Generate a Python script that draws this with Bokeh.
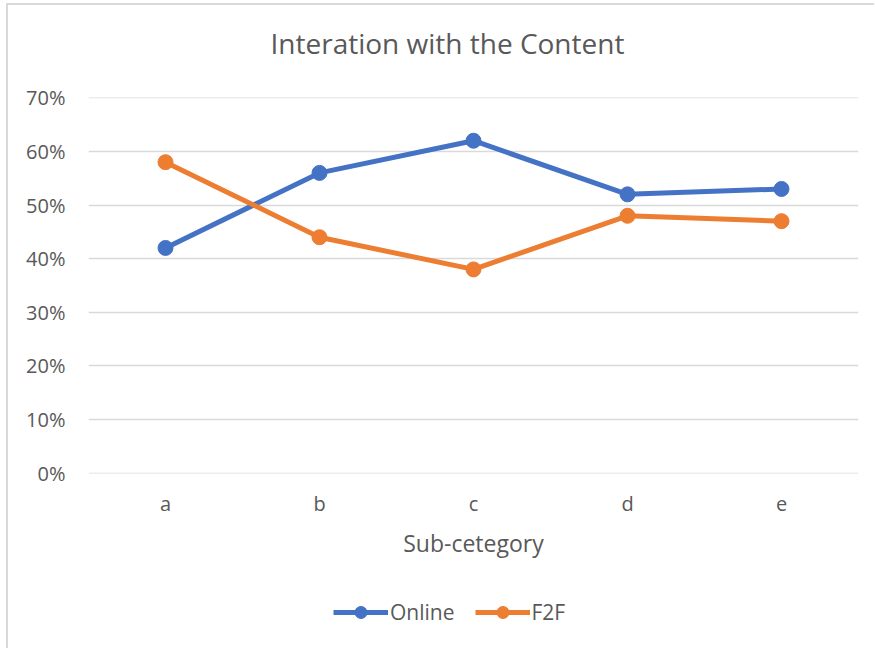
from bokeh.plotting import figure
from bokeh.layouts import column
from bokeh.models import (FactorRange, Range1d, NumeralTickFormatter, FixedTicker,
                          Legend, LegendItem, Title)
from bokeh.embed import file_html
from bokeh.resources import INLINE

categories = ["a", "b", "c", "d", "e"]
online = [0.42, 0.56, 0.62, 0.52, 0.53]
f2f = [0.58, 0.44, 0.38, 0.48, 0.47]
y_ticks = [0.0, 0.1, 0.2, 0.3, 0.4, 0.5, 0.6, 0.7]

BLUE = "#4472C4"
ORANGE = "#ED7D31"
TXT = "#595959"
FONT = "Open Sans"

p = figure(width=866, height=580, x_range=FactorRange(*categories, range_padding=0),
           y_range=Range1d(-0.0006, 0.7006), output_backend="svg", toolbar_location=None,
           title=None,
           min_border_left=80, min_border_right=16, min_border_top=92, min_border_bottom=112)

# spacer between frame and title, then the title itself
p.add_layout(Title(text=" ", text_font_size="10px", standoff=18), "above")
p.add_layout(Title(text="Interation with the Content", align="left", offset=182,
                   text_font=FONT, text_font_size="28px", text_font_style="normal",
                   text_color=TXT, standoff=10), "above")

p.outline_line_color = None
p.xgrid.grid_line_color = None
p.ygrid.grid_line_color = "#d9d9d9"
p.ygrid.grid_line_width = 1.5

p.yaxis.ticker = FixedTicker(ticks=y_ticks)
p.yaxis.formatter = NumeralTickFormatter(format="0%")
for ax in (p.xaxis[0], p.yaxis[0]):
    ax.axis_line_color = None
    ax.major_tick_line_color = None
    ax.minor_tick_line_color = None
    ax.major_label_text_font = FONT
    ax.major_label_text_font_size = "20px"
    ax.major_label_text_color = TXT
p.yaxis.major_label_standoff = 17
p.xaxis.major_label_standoff = 10
p.xaxis.axis_label = "Sub-cetegory"
p.xaxis.axis_label_text_font = FONT
p.xaxis.axis_label_text_font_size = "23px"
p.xaxis.axis_label_text_font_style = "normal"
p.xaxis.axis_label_text_color = TXT
p.xaxis.axis_label_standoff = 7

p.line(categories, online, line_color=BLUE, line_width=5)
p.scatter(categories, online, size=15, fill_color=BLUE, line_color=BLUE)
p.line(categories, f2f, line_color=ORANGE, line_width=5)
p.scatter(categories, f2f, size=15, fill_color=ORANGE, line_color=ORANGE)

# legend strip below the chart (series drawn out of view, only the legend shows)
q = figure(width=866, height=63, x_range=FactorRange(*categories), y_range=Range1d(10, 11),
           output_backend="svg", toolbar_location=None,
           x_axis_location=None, y_axis_location=None, min_border=0)
q.grid.grid_line_color = None
q.outline_line_color = None
ql1 = q.line(categories, online, line_color=BLUE, line_width=5)
qs1 = q.scatter(categories, online, size=15, fill_color=BLUE, line_color=BLUE)
ql2 = q.line(categories, f2f, line_color=ORANGE, line_width=5)
qs2 = q.scatter(categories, f2f, size=15, fill_color=ORANGE, line_color=ORANGE)

legend = Legend(items=[LegendItem(label="Online", renderers=[ql1, qs1]),
                       LegendItem(label="F2F", renderers=[ql2, qs2])],
                orientation="horizontal", location=(245, 21),
                border_line_color=None, background_fill_alpha=0,
                label_text_font=FONT, label_text_font_size="21px", label_text_color=TXT,
                glyph_width=55, glyph_height=30, label_standoff=2, spacing=20,
                margin=0, padding=0)
q.add_layout(legend, "center")

layout = column(p, q, spacing=0)
layout.styles = {"border-left": "2px solid #d9d9d9", "border-top": "2px solid #d9d9d9",
                 "margin-left": "6px", "margin-top": "3px"}
open("out.html", "w").write(file_html(layout, INLINE))
